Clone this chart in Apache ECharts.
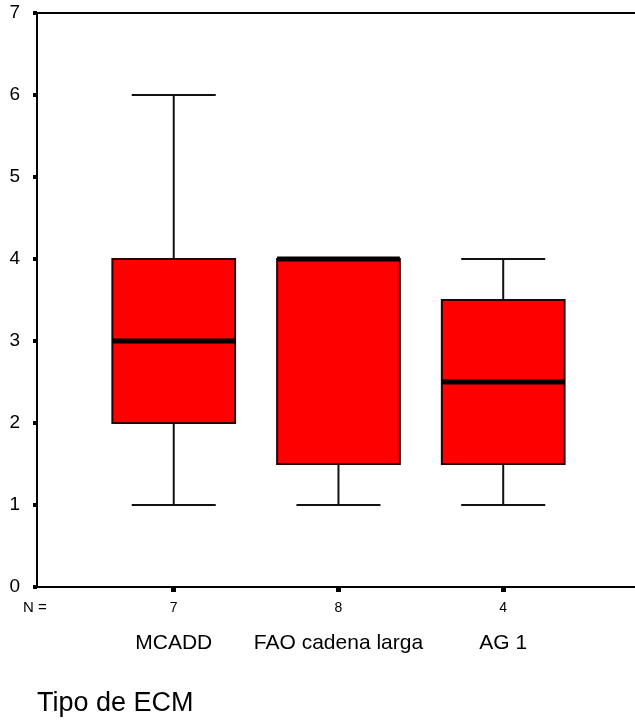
<!DOCTYPE html>
<html>
<head>
<meta charset="utf-8">
<script src="https://cdn.jsdelivr.net/npm/echarts@6/dist/echarts.min.js"></script>
<style>html,body{margin:0;padding:0;background:#fff}#c{width:635px;height:722px}</style>
</head>
<body>
<div id="c"></div>
<script>
// ---- data ----
var categories = ['MCADD', 'FAO cadena larga', 'AG 1'];
var nValues = [7, 8, 4];
var mins = [1, 1, 1];
var q1s = [2, 1.5, 1.5];
var medians = [3, 4, 2.5];
var q3s = [4, 4, 3.5];
var maxs = [6, 4, 4];
var yTicks = [0, 1, 2, 3, 4, 5, 6, 7];

var seriesData = categories.map(function (c, i) {
  return [i, mins[i], q1s[i], medians[i], q3s[i], maxs[i]];
});
var catIdx = categories.map(function (c, i) { return i; });

var chart = echarts.init(document.getElementById('c'), null, { renderer: 'canvas' });
var FONT = 'Arial, "Liberation Sans", sans-serif';

function renderItem(params, api) {
  var x = api.value(0);
  var vMin = api.value(1), vQ1 = api.value(2), vMed = api.value(3), vQ3 = api.value(4), vMax = api.value(5);
  var boxW = api.size([0.745, 0])[0];
  var capW = api.size([0.51, 0])[0];
  var pMin = api.coord([x, vMin]);
  var pQ1 = api.coord([x, vQ1]);
  var pMed = api.coord([x, vMed]);
  var pQ3 = api.coord([x, vQ3]);
  var pMax = api.coord([x, vMax]);
  var cx = pMin[0];
  var lineStyle = { stroke: '#111', lineWidth: 2 };
  return {
    type: 'group',
    children: [
      { type: 'line', shape: { x1: cx, y1: pMax[1], x2: cx, y2: pQ3[1] }, style: lineStyle },
      { type: 'line', shape: { x1: cx, y1: pQ1[1], x2: cx, y2: pMin[1] }, style: lineStyle },
      { type: 'line', shape: { x1: cx - capW / 2, y1: pMax[1], x2: cx + capW / 2, y2: pMax[1] }, style: lineStyle },
      { type: 'line', shape: { x1: cx - capW / 2, y1: pMin[1], x2: cx + capW / 2, y2: pMin[1] }, style: lineStyle },
      { type: 'rect', shape: { x: cx - boxW / 2, y: pQ3[1], width: boxW, height: pQ1[1] - pQ3[1] },
        style: { fill: '#ff0000', stroke: '#2a0000', lineWidth: 2 } },
      { type: 'line', shape: { x1: cx - boxW / 2, y1: pMed[1], x2: cx + boxW / 2, y2: pMed[1] },
        style: { stroke: '#000', lineWidth: 5 } }
    ]
  };
}

var xMin = -0.83, xMax = 2.8;

chart.setOption({
  animation: false,
  backgroundColor: '#fff',
  grid: { left: 37, right: 0, top: 13, bottom: 135, containLabel: false },
  xAxis: [{
    type: 'value',
    min: xMin, max: xMax,
    splitLine: { show: false },
    axisLine: { show: true, onZero: false, lineStyle: { color: '#000', width: 2 } },
    axisTick: { show: true, customValues: catIdx, length: 5, lineStyle: { color: '#000', width: 5 } },
    axisLabel: {
      show: true, customValues: catIdx, margin: 10,
      formatter: function (v) {
        var i = Math.round(v);
        return '{n|' + nValues[i] + '}\n{c|' + categories[i] + '}';
      },
      rich: {
        n: { fontSize: 14, lineHeight: 22, color: '#000', fontFamily: FONT },
        c: { fontSize: 21, lineHeight: 48, color: '#000', fontFamily: FONT }
      }
    }
  }, {
    type: 'value', position: 'top',
    min: xMin, max: xMax,
    splitLine: { show: false },
    axisLine: { show: true, onZero: false, lineStyle: { color: '#000', width: 2 } },
    axisTick: { show: false },
    axisLabel: { show: false }
  }],
  yAxis: {
    type: 'value', min: 0, max: 7, interval: 1,
    splitLine: { show: false },
    axisLine: { show: true, onZero: false, lineStyle: { color: '#000', width: 2 } },
    axisTick: { show: true, length: 4, lineStyle: { color: '#000', width: 4 } },
    axisLabel: { color: '#000', fontSize: 19, fontFamily: FONT, margin: 17, padding: [5, 0, 0, 0],
      formatter: function (v) { return yTicks.indexOf(v) >= 0 ? String(v) : ''; } }
  },
  graphic: [
    { type: 'text', left: 23, top: 600, style: { text: 'N =', fontSize: 15, fontFamily: FONT, fill: '#000' } },
    { type: 'text', left: 37, top: 690, style: { text: 'Tipo de ECM', fontSize: 27, fontFamily: FONT, fill: '#000' } }
  ],
  series: [{
    type: 'custom',
    renderItem: renderItem,
    encode: { x: 0, y: [1, 2, 3, 4, 5] },
    data: seriesData,
    clip: false
  }]
});
</script>
</body>
</html>
